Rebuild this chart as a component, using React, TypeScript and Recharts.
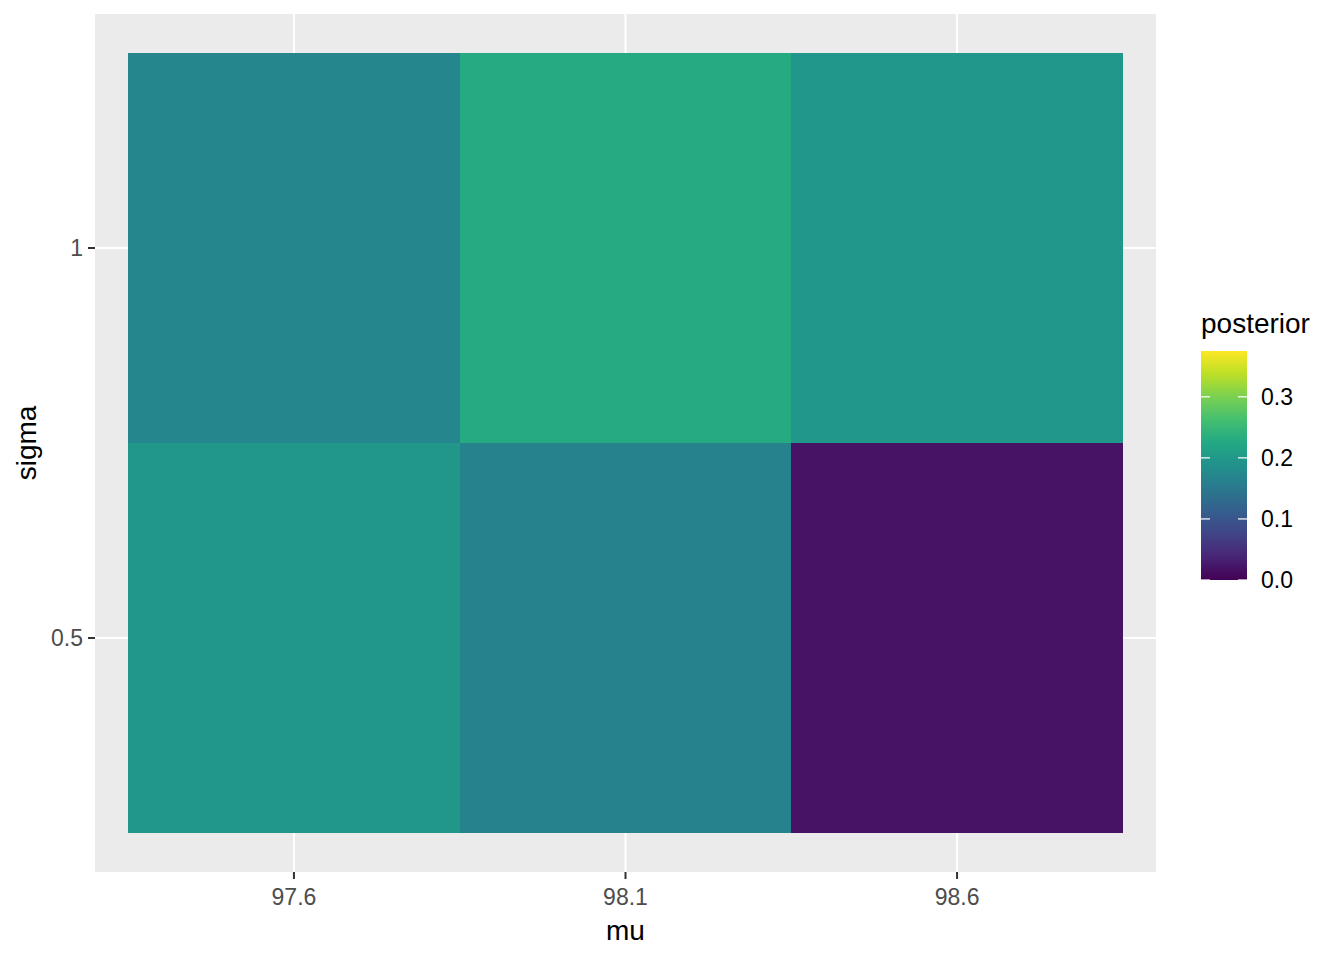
import {
  CartesianGrid,
  Label,
  ReferenceArea,
  Scatter,
  ScatterChart,
  XAxis,
  YAxis,
} from "recharts";

const muValues = [97.6, 98.1, 98.6, 97.6, 98.1, 98.6];
const sigmaValues = [1, 1, 1, 0.5, 0.5, 0.5];
const posteriorValues = [0.172, 0.228, 0.195, 0.198, 0.165, 0.019];

const muTicks = [97.6, 98.1, 98.6];
const sigmaTicks = [0.5, 1];
const legendTicks = [0, 0.1, 0.2, 0.3];
const posteriorMax = 0.375;

const muStep = 0.5;
const sigmaStep = 0.5;

// viridis colormap anchors
const viridis = [
  "#440154", "#482475", "#414487", "#355F8D", "#2A788E",
  "#21918C", "#22A884", "#44BF70", "#7AD151", "#BDDF26", "#FDE725",
];

function hexToRgb(h: string) {
  const n = parseInt(h.slice(1), 16);
  return [(n >> 16) & 255, (n >> 8) & 255, n & 255];
}

function viridisColor(t: number) {
  const c = Math.max(0, Math.min(1, t)) * (viridis.length - 1);
  const i = Math.min(Math.floor(c), viridis.length - 2);
  const f = c - i;
  const a = hexToRgb(viridis[i]);
  const b = hexToRgb(viridis[i + 1]);
  const rgb = a.map((v, k) => Math.round(v + (b[k] - v) * f));
  return `rgb(${rgb[0]},${rgb[1]},${rgb[2]})`;
}

const tiles = muValues.map((mu, i) => ({
  mu,
  sigma: sigmaValues[i],
  posterior: posteriorValues[i],
}));

const font = '"Liberation Sans", Arial, sans-serif';

function PosteriorLegend() {
  const barH = 229;
  const barW = 46;
  return (
    <div style={{ position: "absolute", left: 1201, top: 307, fontFamily: font }}>
      <div style={{ fontSize: 28, color: "#000", marginBottom: 10, lineHeight: "34px" }}>posterior</div>
      <svg width={140} height={barH + 20} style={{ display: "block", overflow: "visible" }}>
        <defs>
          <linearGradient id="viridisGrad" x1="0" y1="1" x2="0" y2="0">
            {viridis.map((c, i) => (
              <stop key={i} offset={`${(i / (viridis.length - 1)) * 100}%`} stopColor={c} />
            ))}
          </linearGradient>
        </defs>
        <rect x={0} y={0} width={barW} height={barH} fill="url(#viridisGrad)" />
        {legendTicks.map((t) => {
          const y = barH - (t / posteriorMax) * barH;
          return (
            <g key={t}>
              <line x1={0} x2={9} y1={y} y2={y} stroke="#fff" strokeWidth={1.2} />
              <line x1={barW - 9} x2={barW} y1={y} y2={y} stroke="#fff" strokeWidth={1.2} />
              <text x={barW + 14} y={y} dy="0.36em" fontSize={23} fill="#000" fontFamily={font}>
                {t.toFixed(1)}
              </text>
            </g>
          );
        })}
      </svg>
    </div>
  );
}

export default function App() {
  return (
    <div style={{ position: "absolute", left: 0, top: 0, width: 1344, height: 960, background: "#fff" }}>
      <ScatterChart
        width={1344}
        height={960}
        margin={{ top: 14, right: 188, left: 0, bottom: 0 }}
      >
        <CartesianGrid fill="#EBEBEB" stroke="#fff" strokeWidth={2} verticalValues={muTicks} horizontalValues={sigmaTicks} />
        <XAxis
          type="number"
          dataKey="mu"
          domain={[97.3, 98.9]}
          ticks={muTicks}
          tickFormatter={(v: number) => v.toFixed(1)}
          allowDataOverflow
          height={88}
          axisLine={false}
          tickLine={{ stroke: "#333", strokeWidth: 2 }}
          tickSize={7}
          tickMargin={10}
          tick={{ fill: "#4D4D4D", fontSize: 23, fontFamily: font }}
        >
          <Label value="mu" position="insideBottom" offset={20} style={{ fill: "#000", fontSize: 28, fontFamily: font }} />
        </XAxis>
        <YAxis
          type="number"
          dataKey="sigma"
          domain={[0.2, 1.3]}
          ticks={sigmaTicks}
          tickFormatter={(v: number) => String(v)}
          allowDataOverflow
          width={95}
          axisLine={false}
          tickLine={{ stroke: "#333", strokeWidth: 2 }}
          tickSize={7}
          tickMargin={5}
          tick={{ fill: "#4D4D4D", fontSize: 23, fontFamily: font }}
        >
          <Label value="sigma" angle={-90} position="insideLeft" offset={26} style={{ fill: "#000", fontSize: 28, fontFamily: font, textAnchor: "middle" }} />
        </YAxis>
        {tiles.map((d, i) => (
          <ReferenceArea
            key={i}
            x1={d.mu - muStep / 2}
            x2={d.mu + muStep / 2}
            y1={d.sigma - sigmaStep / 2}
            y2={d.sigma + sigmaStep / 2}
            fill={viridisColor(d.posterior / posteriorMax)}
            fillOpacity={1}
            stroke="none"
            shapeRendering="crispEdges"
            ifOverflow="visible"
          />
        ))}
        <Scatter data={tiles} shape={() => <g />} isAnimationActive={false} />
      </ScatterChart>
      <PosteriorLegend />
    </div>
  );
}
